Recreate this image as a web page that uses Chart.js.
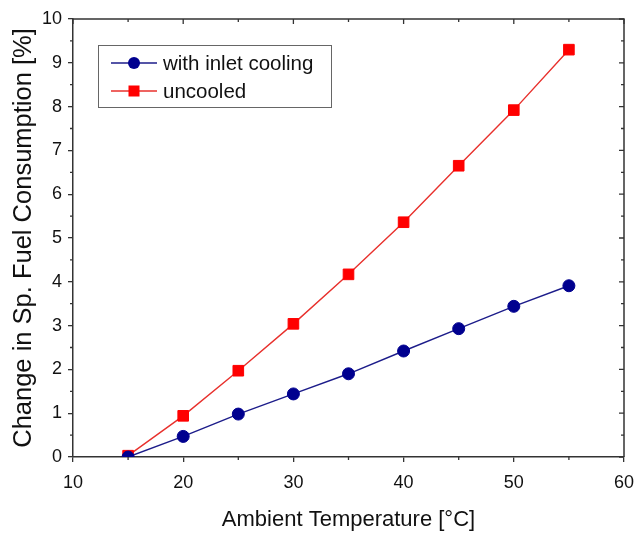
<!DOCTYPE html>
<html><head><meta charset="utf-8">
<script src="https://cdn.jsdelivr.net/npm/chart.js@4.4.0/dist/chart.umd.min.js"></script>
<style>html,body{margin:0;padding:0;background:#fff;}</style>
</head><body>
<canvas id="c" width="635" height="533" style="width:635px;height:533px;display:block"></canvas>
<script>
const temperatures = [15, 20, 25, 30, 35, 40, 45, 50, 55];
const withInletCooling = [0.00, 0.47, 0.98, 1.44, 1.90, 2.42, 2.93, 3.44, 3.91];
const uncooledValues = [0.03, 0.94, 1.97, 3.04, 4.17, 5.36, 6.65, 7.92, 9.30];
const seriesNames = ['with inlet cooling', 'uncooled'];
const xTickValues = [10, 20, 30, 40, 50, 60];
const yTickValues = [0, 1, 2, 3, 4, 5, 6, 7, 8, 9, 10];
const xTitle = 'Ambient Temperature [\u00B0C]';
const yTitle = 'Change in Sp. Fuel Consumption [%]';

const FONT = "'Liberation Sans', Arial, sans-serif";
const BLUE = '#00008f';
const BLUE_LINE = '#1c1c8a';
const RED = '#ff0000';
const RED_LINE = '#e8302c';
const AXIS = '#333333';

const framePlugin = {
  id: 'frame',
  afterDraw(chart) {
    const ctx = chart.ctx;
    const a = chart.chartArea;
    const xs = chart.scales.x, ys = chart.scales.y;
    ctx.save();
    ctx.strokeStyle = AXIS;
    ctx.lineWidth = 1.5;
    ctx.beginPath();
    ctx.moveTo(a.left, a.top); ctx.lineTo(a.right, a.top); ctx.lineTo(a.right, a.bottom);
    ctx.stroke();
    ctx.lineWidth = 1.3;
    ctx.beginPath();
    for (let v = xs.min; v <= xs.max + 1e-9; v += 5) {
      const px = xs.getPixelForValue(v);
      const major = Math.abs(v % 10) < 1e-9;
      const len = major ? 5 : 3;
      ctx.moveTo(px, a.top); ctx.lineTo(px, a.top + len);
      if (!major) { ctx.moveTo(px, a.bottom); ctx.lineTo(px, a.bottom + len); }
    }
    for (let v = ys.min; v <= ys.max + 1e-9; v += 0.5) {
      const py = ys.getPixelForValue(v);
      const major = Math.abs(v - Math.round(v)) < 1e-9;
      const len = major ? 5 : 3;
      ctx.moveTo(a.right, py); ctx.lineTo(a.right - len, py);
      if (!major) { ctx.moveTo(a.left, py); ctx.lineTo(a.left - len, py); }
    }
    ctx.stroke();

    // legend
    const lx = 98, ly = 45, lw = 233, lh = 62;
    ctx.fillStyle = '#fff';
    ctx.fillRect(lx, ly, lw, lh);
    ctx.strokeStyle = '#666';
    ctx.lineWidth = 1;
    ctx.strokeRect(lx + 0.5, ly + 0.5, lw, lh);
    ctx.font = '20.5px ' + FONT;
    ctx.textBaseline = 'middle';
    ctx.textAlign = 'left';
    chart.data.datasets.forEach((ds, i) => {
      const cy = ly + 18 + i * 28;
      ctx.strokeStyle = ds.borderColor;
      ctx.lineWidth = 1.5;
      ctx.beginPath(); ctx.moveTo(111, cy); ctx.lineTo(157, cy); ctx.stroke();
      ctx.fillStyle = ds.pointBackgroundColor;
      if (ds.pointStyle === 'circle') {
        ctx.beginPath(); ctx.arc(134, cy, 6, 0, Math.PI * 2); ctx.fill();
      } else {
        ctx.fillRect(134 - 5.5, cy - 5.5, 11, 11);
      }
      ctx.fillStyle = '#111';
      ctx.fillText(ds.label, 163, cy + 1);
    });
    ctx.restore();
  }
};

new Chart(document.getElementById('c'), {
  type: 'line',
  data: {
    datasets: [
      {
        label: seriesNames[0],
        data: temperatures.map((t, i) => ({ x: t, y: withInletCooling[i] })),
        borderColor: BLUE_LINE, borderWidth: 1.4,
        pointStyle: 'circle', pointRadius: 6, pointBackgroundColor: BLUE,
        pointBorderColor: BLUE, pointBorderWidth: 1, tension: 0
      },
      {
        label: seriesNames[1],
        data: temperatures.map((t, i) => ({ x: t, y: uncooledValues[i] })),
        borderColor: RED_LINE, borderWidth: 1.4,
        pointStyle: 'rect', pointRadius: 7.5, pointBackgroundColor: RED,
        pointBorderColor: RED, pointBorderWidth: 1, tension: 0
      }
    ]
  },
  options: {
    responsive: false,
    animation: false,
    layout: { padding: { top: 19, right: 11, left: 0, bottom: 0 } },
    plugins: { legend: { display: false }, tooltip: { enabled: false } },
    scales: {
      x: {
        type: 'linear', min: 10, max: 60,
        afterFit(s) { s.height = 76; s.paddingLeft = 0; s.paddingRight = 0; },
        afterBuildTicks(s) { s.ticks = xTickValues.map(v => ({ value: v })); },
        grid: { display: true, drawOnChartArea: false, drawTicks: true, tickLength: 5, color: AXIS, lineWidth: 1.3 },
        border: { display: true, color: AXIS, width: 1.5 },
        ticks: { font: { family: FONT, size: 18 }, color: '#111', padding: 10, maxRotation: 0 },
        title: { display: true, text: xTitle, font: { family: FONT, size: 22 }, color: '#111', padding: { top: 20, bottom: 0 } }
      },
      y: {
        type: 'linear', min: 0, max: 10,
        afterFit(s) { s.width = 73; s.paddingTop = 0; s.paddingBottom = 0; },
        afterBuildTicks(s) { s.ticks = yTickValues.map(v => ({ value: v })); },
        grid: { display: true, drawOnChartArea: false, drawTicks: true, tickLength: 5, color: AXIS, lineWidth: 1.3 },
        border: { display: true, color: AXIS, width: 1.5 },
        ticks: { font: { family: FONT, size: 18 }, color: '#111', padding: 6 },
        title: { display: true, text: yTitle, font: { family: FONT, size: 25.5 }, color: '#111', padding: { top: 9, bottom: 0 } }
      }
    }
  },
  plugins: [framePlugin]
});
</script>
</body></html>
